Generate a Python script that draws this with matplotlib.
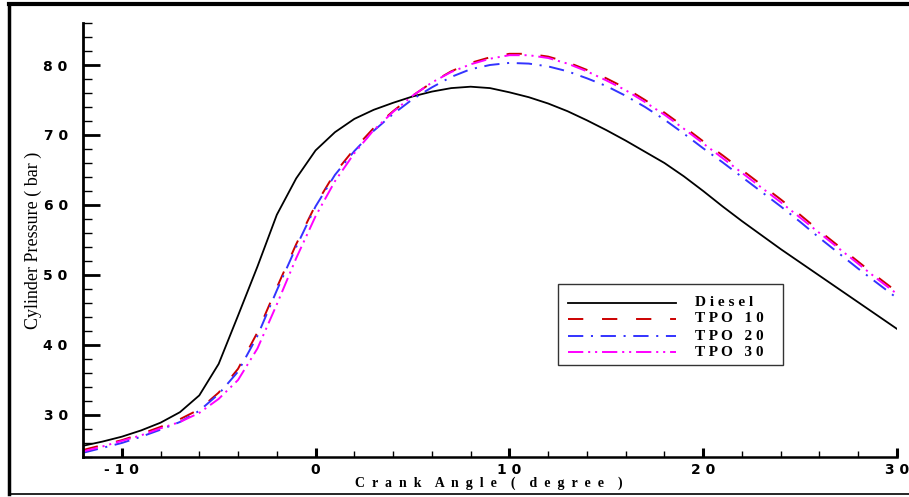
import numpy as np
import matplotlib
matplotlib.use("Agg")
import matplotlib.pyplot as plt
from matplotlib.lines import Line2D
from matplotlib.patches import Rectangle

plt.rcParams['lines.scale_dashes'] = False

crank_angle = list(range(-12, 31))

diesel = [25.6, 26.2, 26.9, 27.8, 28.9, 30.4, 32.8, 37.3, 44.2, 51.2, 58.6, 63.8,
          67.8, 70.4, 72.3, 73.6, 74.6, 75.5, 76.2, 76.7, 76.9, 76.7, 76.1, 75.4,
          74.5, 73.4, 72.1, 70.7, 69.2, 67.6, 66.0, 64.1, 62.0, 59.8, 57.7, 55.7,
          53.7, 51.8, 49.9, 48.0, 46.1, 44.2, 42.3]

tpo10 = [25.0, 25.7, 26.4, 27.3, 28.3, 29.4, 30.8, 33.2, 36.6, 41.8, 48.2, 54.4,
         60.0, 64.6, 68.0, 71.0, 73.4, 75.6, 77.5, 79.1, 80.3, 81.1, 81.6, 81.6,
         81.2, 80.4, 79.3, 78.1, 76.7, 75.0, 73.2, 71.2, 69.1, 67.1, 65.0, 62.9,
         60.8, 58.6, 56.3, 54.1, 51.9, 49.7, 47.6]

tpo20 = [24.6, 25.3, 26.0, 26.9, 27.9, 29.0, 30.6, 33.0, 36.2, 41.3, 47.8, 54.0,
         59.8, 64.3, 67.7, 70.6, 73.0, 75.1, 76.8, 78.3, 79.4, 80.0, 80.3, 80.2,
         79.8, 79.1, 78.1, 77.0, 75.6, 74.0, 72.2, 70.2, 68.1, 66.1, 64.0, 61.9,
         59.8, 57.6, 55.3, 53.1, 50.9, 48.8, 46.7]

tpo30 = [24.8, 25.5, 26.3, 27.1, 28.1, 29.0, 30.3, 32.3, 35.0, 39.5, 45.8, 52.4,
         58.4, 63.4, 67.4, 70.7, 73.3, 75.6, 77.5, 79.0, 80.1, 80.9, 81.4, 81.4,
         81.0, 80.2, 79.1, 77.8, 76.4, 74.7, 72.9, 70.9, 68.8, 66.7, 64.6, 62.5,
         60.4, 58.2, 56.0, 53.8, 51.6, 49.4, 47.3]

series_labels = ["D i e s e l", "T P O   1 0", "T P O   2 0", "T P O   3 0"]
x_ticks = [-10, 0, 10, 20, 30]
x_tick_labels = ["- 1 0", "0", "1 0", "2 0", "3 0"]
y_ticks = [30, 40, 50, 60, 70, 80]
y_tick_labels = ["3 0", "4 0", "5 0", "6 0", "7 0", "8 0"]
x_label = "C  r  a  n  k    A  n  g  l  e    (    d  e  g  r  e  e    )"
y_label = "Cylinder Pressure ( bar )"

series = [diesel, tpo10, tpo20, tpo30]
colors = ['black', '#cc0000', '#3333ff', '#ff00ff']
dash_styles = [None, (11, 13.5), (11, 5.5, 1.5, 5.5), (11, 3.5, 1.5, 3.5, 1.5, 3.5)]
widths = [1.3, 1.4, 1.4, 1.4]

W, H = 909, 497
AX_L, AX_R, AX_T, AX_B = 83, 897, 23, 457

fig = plt.figure(figsize=(W / 100, H / 100), dpi=100)
ax = fig.add_axes([AX_L / W, (H - AX_B) / H, (AX_R - AX_L) / W, (AX_B - AX_T) / H])

def style_kw(i):
    kw = dict(color=colors[i], lw=widths[i])
    if dash_styles[i] is not None:
        kw['dashes'] = dash_styles[i]
    return kw

for i, ys in enumerate(series):
    ax.plot(crank_angle, ys, **style_kw(i))

ax.set_xlim(-12, 30)
ax.set_ylim(24, 86)
ax.spines['top'].set_visible(False)
ax.spines['right'].set_visible(False)
ax.spines['left'].set_linewidth(2)
ax.spines['bottom'].set_linewidth(1.8)

ax.set_xticks(x_ticks)
ax.set_xticklabels(x_tick_labels, fontsize=10, fontweight='bold', family='DejaVu Sans')
ax.set_yticks(y_ticks)
ax.set_yticklabels(y_tick_labels, fontsize=10, fontweight='bold', family='DejaVu Sans')
ax.set_xticks(np.arange(-12, 31, 2), minor=True)
ax.set_yticks(np.arange(24, 87, 2), minor=True)
ax.tick_params(axis='x', which='major', direction='in', length=6.5, width=2.2, pad=4)
ax.tick_params(axis='x', which='minor', direction='in', length=4.5, width=1)
ax.tick_params(axis='y', which='major', direction='in', length=12, width=2, pad=11)
ax.tick_params(axis='y', which='minor', direction='in', length=6.5, width=1)

ax.set_xlabel(x_label, fontsize=10, fontweight='bold', family='Liberation Serif')
ax.set_ylabel(y_label, fontsize=13, family='Liberation Serif')
ax.xaxis.set_label_coords((489 - AX_L) / (AX_R - AX_L), -(483 - AX_B) / (AX_B - AX_T))
ax.yaxis.set_label_coords(-(AX_L - 33) / (AX_R - AX_L), (AX_B - 240) / (AX_B - AX_T))
ax.xaxis.label.set_va('center')
ax.yaxis.label.set_va('center')

# legend (drawn manually to match the boxed layout)
def px_to_ax(xp, yp):
    return ((xp - AX_L) / (AX_R - AX_L), (AX_B - yp) / (AX_B - AX_T))

x0, y1 = px_to_ax(558, 284)
x1, y0 = px_to_ax(783, 365)
ax.add_patch(Rectangle((x0, y0), x1 - x0, y1 - y0, transform=ax.transAxes,
                       facecolor='white', edgecolor='#333333', lw=1, zorder=5))
rows = [303, 319, 336, 352]
for i, lab in enumerate(series_labels):
    hx0, hy = px_to_ax(568, rows[i])
    hx1, _ = px_to_ax(676, rows[i])
    ax.add_line(Line2D([hx0, hx1], [hy, hy], transform=ax.transAxes, zorder=6, **style_kw(i)))
    tx, _ = px_to_ax(695, rows[i])
    ax.text(tx, hy, lab, transform=ax.transAxes, va='center', ha='left', zorder=6,
            family='Liberation Serif', fontweight='bold', fontsize=11)

# outer frame
fig.add_artist(Line2D([9 / W, 1], [1 - 4 / H, 1 - 4 / H], color='black', lw=3, transform=fig.transFigure))
fig.add_artist(Line2D([9 / W, 9 / W], [1 - 4 / H, 1 - 494 / H], color='black', lw=2.5, transform=fig.transFigure))
fig.add_artist(Line2D([9 / W, 1], [1 - 494 / H, 1 - 494 / H], color='black', lw=1.2, transform=fig.transFigure))

fig.savefig("out.png", dpi=100)
